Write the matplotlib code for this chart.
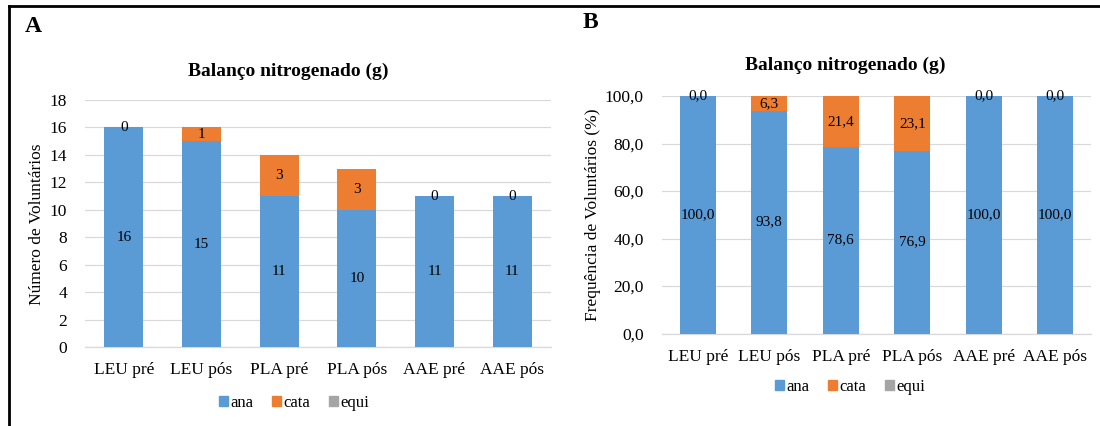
import numpy as np
import matplotlib
matplotlib.use("Agg")
import matplotlib.pyplot as plt
from matplotlib.lines import Line2D
from matplotlib.ticker import FuncFormatter

# dados
grupos = ["LEU pré", "LEU pós", "PLA pré", "PLA pós", "AAE pré", "AAE pós"]
ana_n = [16, 15, 11, 10, 11, 11]
cata_n = [0, 1, 3, 3, 0, 0]
equi_n = [0, 0, 0, 0, 0, 0]
ana_pct = [100.0, 93.8, 78.6, 76.9, 100.0, 100.0]
cata_pct = [0.0, 6.3, 21.4, 23.1, 0.0, 0.0]
equi_pct = [0.0, 0.0, 0.0, 0.0, 0.0, 0.0]

cor_ana = "#5B9BD5"
cor_cata = "#ED7D31"
cor_equi = "#A5A5A5"
cor_grade = "#D9D9D9"

plt.rcParams["font.family"] = ["Liberation Serif", "DejaVu Serif"]

W, H = 1100, 426
fig = plt.figure(figsize=(W / 100, H / 100), dpi=100)


def px_axes(x0, y0, x1, y1):
    # cria eixo a partir de coordenadas em pixels (origem no topo)
    return fig.add_axes([x0 / W, 1 - y1 / H, (x1 - x0) / W, (y1 - y0) / H])


def fmt_virgula(v, casas):
    return f"{v:.{casas}f}".replace(".", ",")


def desenha(ax, ana, cata, equi, ymax, passo, casas):
    x = np.arange(len(grupos))
    ax.bar(x, ana, 0.5, color=cor_ana, zorder=3)
    ax.bar(x, cata, 0.5, bottom=ana, color=cor_cata, zorder=3)
    base = np.array(ana) + np.array(cata)
    ax.bar(x, equi, 0.5, bottom=base, color=cor_equi, zorder=3)
    for i in range(len(grupos)):
        ax.text(x[i], ana[i] / 2, fmt_virgula(ana[i], casas), ha="center",
                va="center", fontsize=11, zorder=4)
        ax.text(x[i], ana[i] + cata[i] / 2, fmt_virgula(cata[i], casas),
                ha="center", va="center", fontsize=11, zorder=4)
    ax.set_ylim(0, ymax)
    ax.set_xlim(-0.5, len(grupos) - 0.5)
    ax.set_yticks(np.arange(0, ymax + passo / 2, passo))
    ax.yaxis.set_major_formatter(FuncFormatter(lambda v, p: fmt_virgula(v, casas)))
    ax.set_xticks(x)
    ax.set_xticklabels(grupos)
    ax.tick_params(length=0, labelsize=12.5)
    ax.tick_params(axis="x", pad=11)
    ax.tick_params(axis="y", pad=13)
    ax.grid(axis="y", color=cor_grade, lw=0.9, zorder=0)
    for s in ["top", "right", "left"]:
        ax.spines[s].set_visible(False)
    ax.spines["bottom"].set_color(cor_grade)
    ax.spines["bottom"].set_linewidth(0.9)


# painel A
axA = px_axes(85, 100, 551, 347)
desenha(axA, ana_n, cata_n, equi_n, 18, 2, 0)
fig.text(288 / W, 1 - 71 / H, "Balanço nitrogenado (g)", ha="center",
         va="center", fontsize=14, fontweight="bold")
fig.text(37 / W, 1 - 224 / H, "Número de Voluntários", ha="center",
         va="center", rotation=90, fontsize=12.5)
fig.text(33 / W, 1 - 26 / H, "A", ha="center", va="center", fontsize=17,
         fontweight="bold")

# painel B
axB = px_axes(662, 96, 1091, 333.5)
desenha(axB, ana_pct, cata_pct, equi_pct, 100, 20, 1)
fig.text(845 / W, 1 - 65 / H, "Balanço nitrogenado (g)", ha="center",
         va="center", fontsize=14, fontweight="bold")
fig.text(593 / W, 1 - 215 / H, "Frequência de Voluntários (%)", ha="center",
         va="center", rotation=90, fontsize=12.5)
fig.text(590 / W, 1 - 22 / H, "B", ha="center", va="center", fontsize=17,
         fontweight="bold")

# legendas
handles = [plt.Rectangle((0, 0), 1, 1, color=c) for c in (cor_ana, cor_cata, cor_equi)]
nomes = ["ana", "cata", "equi"]
for cx, cy in [(294, 403), (850, 387)]:
    fig.legend(handles, nomes, loc="center", bbox_to_anchor=(cx / W, 1 - cy / H),
               ncol=3, frameon=False, fontsize=12, handlelength=0.55,
               handleheight=0.55, handletextpad=0.15, columnspacing=1.1)

# moldura
fig.add_artist(Line2D([9 / W, 1], [1 - 6 / H, 1 - 6 / H], color="black", lw=2))
fig.add_artist(Line2D([9 / W, 9 / W], [0, 1 - 6 / H], color="black", lw=2))

fig.savefig("out.png", dpi=100)
